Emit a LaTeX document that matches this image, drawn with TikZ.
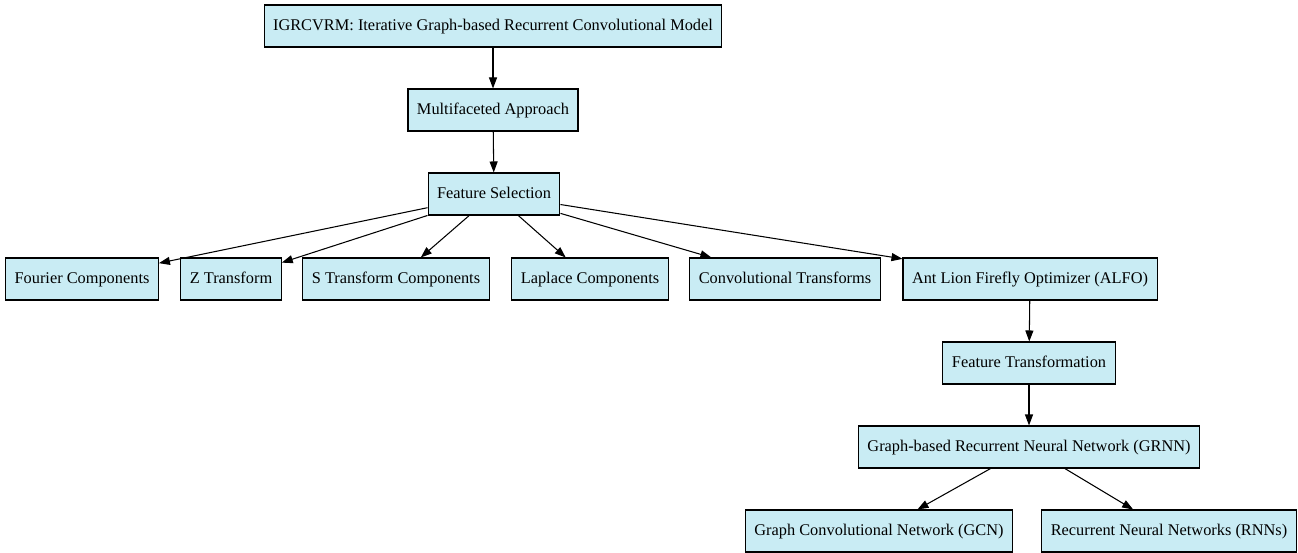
\documentclass[tikz,border=0pt]{standalone}
\usepackage{fontspec}
\setmainfont{Liberation Serif}
\usepackage{tikz}
\usetikzlibrary{arrows.meta}
\definecolor{lb}{HTML}{C9ECF4}

\begin{document}
\begin{tikzpicture}[
      > = {Triangle[length=2.2mm,width=1.6mm]}, % arrow head style
      auto,
      line width = 0.6pt, % line style
    ]

    \tikzstyle{box}=[
      draw = black,
      fill = lb,
      rectangle,
      minimum height = 8.4mm,
      inner xsep = 1.8mm,
      text height = 0.72em,
      text depth = 0.22em,
      font = \fontsize{9.3pt}{11pt}\selectfont
    ]

    \useasboundingbox (0,0) rectangle (25.96,-11.06);

    \node[box] (top) [at={(9.86,-0.52)}] {IGRCVRM: Iterative Graph-based Recurrent Convolutional Model};
    \node[box] (mfa) [at={(9.86,-2.20)}] {Multifaceted Approach};
    \node[box] (fs) [at={(9.88,-3.88)}] {Feature Selection};
    \node[box] (four) [at={(1.64,-5.58)}] {Fourier Components};
    \node[box] (ztr) [at={(4.62,-5.58)}] {Z Transform};
    \node[box] (str) [at={(7.92,-5.58)}] {S Transform Components};
    \node[box] (lap) [at={(11.80,-5.58)}] {Laplace Components};
    \node[box] (conv) [at={(15.70,-5.58)}] {Convolutional Transforms};
    \node[box] (alfo) [at={(20.60,-5.58)}] {Ant Lion Firefly Optimizer (ALFO)};
    \node[box] (ftr) [at={(20.58,-7.26)}] {Feature Transformation};
    \node[box] (grnn) [at={(20.58,-8.94)}] {Graph-based Recurrent Neural Network (GRNN)};
    \node[box] (gcn) [at={(17.58,-10.62)}] {Graph Convolutional Network (GCN)};
    \node[box] (rnn) [at={(23.38,-10.62)}] {Recurrent Neural Networks (RNNs)};

    \path[->] (top) edge node {} (mfa);
    \path[->] (mfa) edge node {} (fs);
    \path[->] (fs) edge node {} (four);
    \path[->] (fs) edge node {} (ztr);
    \path[->] (fs) edge node {} (str);
    \path[->] (fs) edge node {} (lap);
    \path[->] (fs) edge node {} (conv);
    \path[->] (fs) edge node {} (alfo);
    \path[->] (alfo) edge node {} (ftr);
    \path[->] (ftr) edge node {} (grnn);
    \path[->] (grnn) edge node {} (gcn);
    \path[->] (grnn) edge node {} (rnn);
  \end{tikzpicture}
\end{document}
